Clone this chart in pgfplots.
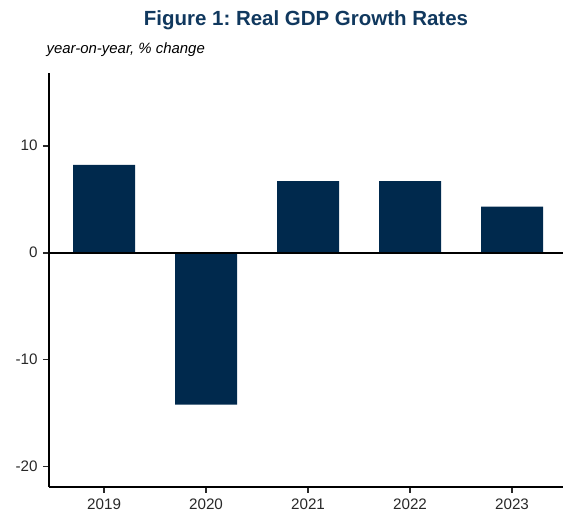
\documentclass[border=0pt]{standalone}
\usepackage{pgfplots}
\pgfplotsset{compat=1.18}
\usepackage{fontspec}
\setmainfont{Liberation Sans}
\definecolor{barnavy}{RGB}{0,41,77}
\definecolor{titlenavy}{RGB}{16,56,94}
\definecolor{tickgrey}{RGB}{40,40,40}
\frenchspacing
\begin{document}
\begin{tikzpicture}[x=1pt,y=1pt]
\begin{axis}[
  name=ax,
  scale only axis,
  width=385.5pt, height=310.5pt,
  xmin=-0.54, xmax=4.5,
  ymin=-21.9, ymax=16.8,
  axis x line*=bottom, axis y line*=left,
  axis line style={-, line width=1.6pt, black},
  xtick={0,1,2,3,4},
  xticklabels={2019,2020,2021,2022,2023},
  ytick={-20,-10,0,10},
  tick align=outside,
  major tick length=4.5pt,
  tick style={line width=1.2pt, tickgrey},
  tick label style={font=\fontsize{11.4}{13}\selectfont, text=tickgrey},
  /pgf/number format/assume math mode=true,
  yticklabel style={xshift=-0.5pt},
  xticklabel style={yshift=-1pt},
  clip=false,
]
\addplot[ybar, bar width=46.5pt, fill=barnavy, draw=none] coordinates {
  (0,8.2) (1,-14.2) (2,6.7) (3,6.7) (4,4.3)
};
\draw[black, line width=1.5pt] (axis cs:-0.54,0) -- (axis cs:4.5,0);
\end{axis}
\node[font=\bfseries\fontsize{15.35}{18}\selectfont, text=titlenavy] at ([yshift=39.75pt]ax.north) {Figure 1: Real GDP Growth Rates};
\node[font=\itshape\fontsize{11.2}{13}\selectfont, anchor=west, inner sep=0pt] at ([xshift=-2pt,yshift=17.25pt]ax.north west) {year-on-year, \% change};
\path[use as bounding box] ([xshift=-36.75pt,yshift=-21pt]ax.south west) rectangle ([xshift=1.5pt,yshift=54.75pt]ax.north east);
\end{tikzpicture}
\end{document}
